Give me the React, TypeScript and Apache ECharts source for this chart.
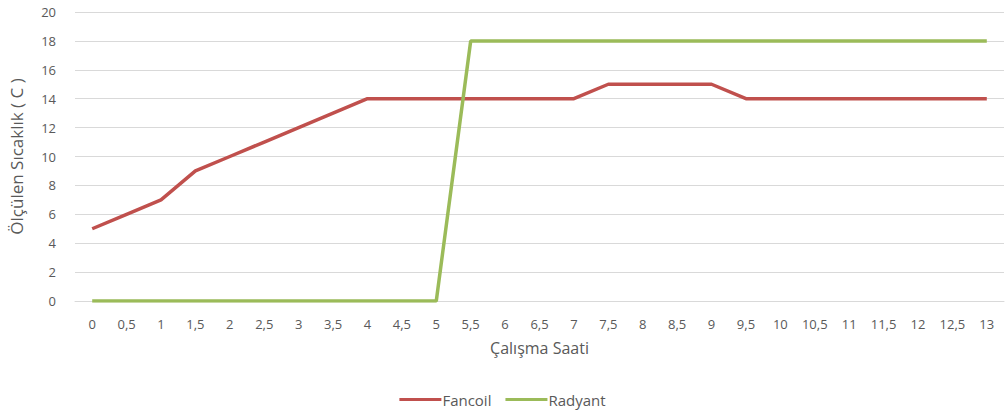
import React, { useEffect, useRef } from "react";
import * as echarts from "echarts";

const hours = [
  "0", "0,5", "1", "1,5", "2", "2,5", "3", "3,5", "4", "4,5", "5", "5,5", "6", "6,5",
  "7", "7,5", "8", "8,5", "9", "9,5", "10", "10,5", "11", "11,5", "12", "12,5", "13",
];
const fancoil = [5, 6, 7, 9, 10, 11, 12, 13, 14, 14, 14, 14, 14, 14, 14, 15, 15, 15, 15, 14, 14, 14, 14, 14, 14, 14, 14];
const radyant = [0, 0, 0, 0, 0, 0, 0, 0, 0, 0, 0, 18, 18, 18, 18, 18, 18, 18, 18, 18, 18, 18, 18, 18, 18, 18, 18];

const FONT = "'Open Sans', 'Liberation Sans', sans-serif";
const TEXT = "#595959";

export default function App() {
  const ref = useRef<HTMLDivElement>(null);

  useEffect(() => {
    if (!ref.current) return;
    const chart = echarts.init(ref.current, null, { renderer: "svg" });
    chart.setOption({
      animation: false,
      textStyle: { fontFamily: FONT },
      grid: { left: 69, right: 1, top: 12, bottom: 116 },
      legend: {
        bottom: 5,
        left: "center",
        itemWidth: 42,
        itemHeight: 3,
        itemGap: 14,
        icon: "rect",
        textStyle: { color: TEXT, fontSize: 15, fontFamily: FONT, padding: [0, 0, 0, -4] },
        data: ["Fancoil", "Radyant"],
      },
      xAxis: {
        type: "category",
        data: hours,
        boundaryGap: true,
        name: "Çalışma Saati",
        nameLocation: "middle",
        nameGap: 39,
        nameTextStyle: { color: TEXT, fontSize: 16, fontFamily: FONT },
        axisLine: { show: true, lineStyle: { color: "#D9D9D9" } },
        axisTick: { show: false },
        axisLabel: { color: TEXT, fontSize: 13, margin: 16, fontFamily: FONT },
      },
      yAxis: {
        type: "value",
        min: 0,
        max: 20,
        interval: 2,
        name: "Ölçülen Sıcaklık ( C )",
        nameLocation: "middle",
        nameGap: 50,
        nameTextStyle: { color: TEXT, fontSize: 17, fontFamily: FONT },
        axisLine: { show: false },
        axisTick: { show: false },
        axisLabel: { color: TEXT, fontSize: 13, margin: 19, fontFamily: FONT },
        splitLine: { lineStyle: { color: "#D9D9D9", width: 1 } },
      },
      series: [
        {
          name: "Fancoil",
          type: "line",
          data: fancoil,
          symbol: "none",
          itemStyle: { color: "#C0504D" },
          lineStyle: { color: "#C0504D", width: 3.5 },
        },
        {
          name: "Radyant",
          type: "line",
          data: radyant,
          symbol: "none",
          itemStyle: { color: "#9BBB59" },
          lineStyle: { color: "#9BBB59", width: 3.5 },
        },
      ],
    });
    return () => chart.dispose();
  }, []);

  return <div ref={ref} style={{ width: 1005, height: 417, position: "absolute", left: 0, top: 0 }} />;
}
